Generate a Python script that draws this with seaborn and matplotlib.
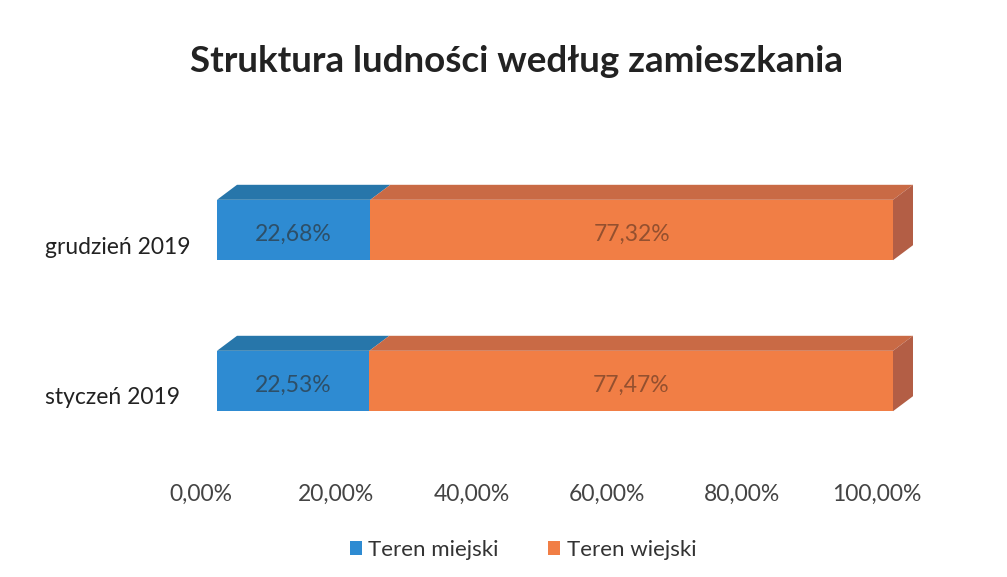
import matplotlib
matplotlib.use("Agg")
import matplotlib.pyplot as plt
import matplotlib.transforms as mtransforms
from matplotlib.patches import Polygon, Patch
import seaborn as sns
import pandas as pd

# ---- data ----
categories = ["grudzień 2019", "styczeń 2019"]
teren_miejski = [22.68, 22.53]
teren_wiejski = [77.32, 77.47]
series_names = ["Teren miejski", "Teren wiejski"]
xtick_values = [0, 20, 40, 60, 80, 100]
xtick_labels = ["0,00%", "20,00%", "40,00%", "60,00%", "80,00%", "100,00%"]
title = "Struktura ludności według zamieszkania"

# ---- style ----
sns.set_theme(style="white")
plt.rcParams["font.family"] = ["Lato", "DejaVu Sans"]

blue_front, blue_top = "#2E8BD2", "#2776AA"
orange_front, orange_top, orange_side = "#F17E45", "#C96A45", "#B35E45"

W, H, DPI = 1007, 577, 100
fig = plt.figure(figsize=(W / DPI, H / DPI), dpi=DPI)
ax_left, ax_right = 217, 893
ax_top, ax_bot = 154.5, 456.5
ax = fig.add_axes([ax_left / W, 1 - ax_bot / H, (ax_right - ax_left) / W, (ax_bot - ax_top) / H])

df = pd.DataFrame({
    "cat": categories,
    "miejski": teren_miejski,
    "wiejski": teren_wiejski,
})
df["total"] = df["miejski"] + df["wiejski"]

bar_h = 0.4
sns.barplot(data=df, y="cat", x="total", color=orange_front, width=bar_h,
            saturation=1, ax=ax, orient="h", linewidth=0)
sns.barplot(data=df, y="cat", x="miejski", color=blue_front, width=bar_h,
            saturation=1, ax=ax, orient="h", linewidth=0)

ax.set_xlim(0, 100)
ax.set_ylim(1.5, -0.5)

# 3D depth in data units
px_x = 100 / (ax_right - ax_left)
px_y = 2.0 / (ax_bot - ax_top)
dx = 20 * px_x
dy = 15 * px_y

for i, (m, w) in enumerate(zip(teren_miejski, teren_wiejski)):
    yt = i - bar_h / 2
    yb = i + bar_h / 2
    total = m + w
    # top faces
    ax.add_patch(Polygon([(0, yt), (m, yt), (m + dx, yt - dy), (dx, yt - dy)],
                         closed=True, facecolor=blue_top, edgecolor="none", clip_on=False))
    ax.add_patch(Polygon([(m, yt), (total, yt), (total + dx, yt - dy), (m + dx, yt - dy)],
                         closed=True, facecolor=orange_top, edgecolor="none", clip_on=False))
    # side face
    ax.add_patch(Polygon([(total, yt), (total + dx, yt - dy), (total + dx, yb - dy), (total, yb)],
                         closed=True, facecolor=orange_side, edgecolor="none", clip_on=False))
    # labels
    ax.text(m / 2, i + 0.03, f"{m:.2f}%".replace(".", ","), ha="center", va="center",
            fontsize=16.5, color="#2D4F68")
    ax.text(m + w / 2, i + 0.03, f"{w:.2f}%".replace(".", ","), ha="center", va="center",
            fontsize=16.5, color="#94502F")

ax.set_xticks(xtick_values)
ax.set_xticklabels(xtick_labels, fontsize=16.5, color="#444444")
ax.set_xlabel("")
ax.set_ylabel("")
ax.tick_params(axis="x", length=0, pad=20)
ax.tick_params(axis="y", length=0, pad=124)
for lab in ax.get_xticklabels():
    lab.set_transform(lab.get_transform() + mtransforms.ScaledTranslation(-16 / DPI, 0, fig.dpi_scale_trans))
for lab in ax.get_yticklabels():
    lab.set_fontsize(16.5)
    lab.set_color("#222222")
    lab.set_horizontalalignment("left")
    lab.set_transform(lab.get_transform() + mtransforms.ScaledTranslation(0, -15 / DPI, fig.dpi_scale_trans))

for s in ax.spines.values():
    s.set_visible(False)

fig.text(517 / W, 1 - 62 / H, title, ha="center", va="center",
         fontsize=26.5, fontweight="bold", color="#222222")

handles = [Patch(facecolor=blue_front, edgecolor="none"),
           Patch(facecolor=orange_front, edgecolor="none")]
fig.legend(handles, series_names, loc="center", bbox_to_anchor=(523 / W, 1 - 550 / H),
           ncol=2, frameon=False, fontsize=16, handlelength=0.55, handleheight=0.55,
           handletextpad=0.3, columnspacing=2.2, labelcolor="#333333")

fig.savefig("out.png", dpi=DPI, facecolor="white")
